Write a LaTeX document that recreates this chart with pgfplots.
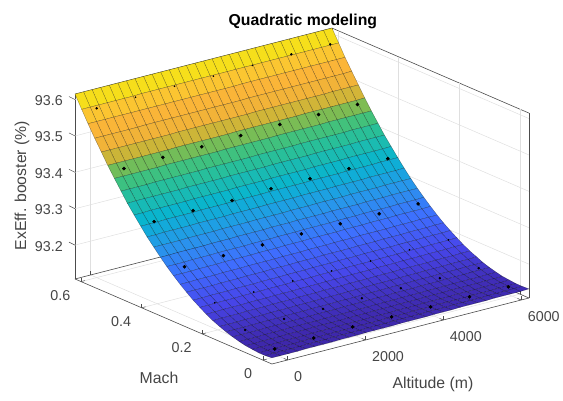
\documentclass[border=0pt]{standalone}
\usepackage{fontspec}
\setmainfont{Liberation Sans}
\usepackage{pgfplots}
\pgfplotsset{compat=1.18}
\definecolor{txt}{gray}{0.27}
\begin{document}
\begin{tikzpicture}
\path[use as bounding box] (0,0) rectangle (563pt,400pt);
\begin{axis}[
  at={(75pt,36pt)},anchor=south west,
  x={(0.03894pt,0.01pt)},y={(-303pt,130.8pt)},z={(0pt,364pt)},
  xmin=-400,xmax=6200,ymin=-0.03,ymax=0.62,zmin=93.107,zmax=93.615,
  clip=false,
  colormap={parula}{rgb(0cm)=(0.2422,0.1504,0.6603);rgb(11cm)=(0.2803,0.2782,0.9221);rgb(22cm)=(0.2440,0.4358,0.9988);rgb(33cm)=(0.1540,0.5902,0.9218);rgb(44cm)=(0.0297,0.7082,0.8163);rgb(58cm)=(0.19,0.76,0.55);rgb(64cm)=(0.35,0.75,0.40);rgb(69cm)=(0.70,0.72,0.22);rgb(74cm)=(0.93,0.70,0.22);rgb(85cm)=(0.99,0.71,0.22);rgb(92cm)=(0.98,0.80,0.18);rgb(95cm)=(0.97,0.85,0.12);rgb(100cm)=(0.95,0.92,0.08)},
  point meta min=93.122,point meta max=93.615,
  xtick={0,2000,4000,6000},xticklabels={0,2000,4000,6000},
  ytick={0,0.2,0.4,0.6},yticklabels={0,0.2,0.4,0.6},
  ztick={93.2,93.3,93.4,93.5,93.6},zticklabels={93.2,93.3,93.4,93.5,93.6},
  xtick pos=left,ytick pos=left,
  grid=major,grid style={gray!25,line width=0.5pt},
  axis line style={black!70,line width=0.6pt},
  tick style={black!70,line width=0.5pt},
  ztick style={draw=none},
  major tick length=4pt,
  tick label style={font=\fontsize{14.3}{16}\selectfont,text=txt,inner sep=0pt},
  xticklabel style={anchor=west,xshift=6.5pt,yshift=-16.5pt},
  yticklabel style={anchor=east,xshift=-10.5pt,yshift=-13.5pt},
  zticklabel style={anchor=east,xshift=-12pt,yshift=-1pt},
  label style={font=\fontsize{15.8}{18}\selectfont,text=txt},
  title style={font=\bfseries\fontsize{15.8}{18}\selectfont,text=black,at={(axis description cs:0.502,1.003)},anchor=center},
  title={Quadratic modeling},
  xlabel={Altitude (m)},ylabel={Mach},zlabel={ExEff. booster (\%)},
  x label style={at={(axis description cs:0.7885,-0.0597)},anchor=center},
  y label style={at={(axis description cs:0.185,-0.0418)},anchor=center},
  z label style={at={(axis description cs:-0.1167,0.531)},anchor=center,rotate=0},
]
\addplot3[surf,shader=faceted,faceted color=black,line width=0.3pt,draw opacity=0.45,mesh/rows=31] table[row sep=\\]{
x y z\\
-400 -0.03 93.124\\-180 -0.03 93.124\\40 -0.03 93.124\\260 -0.03 93.124\\480 -0.03 93.125\\700 -0.03 93.125\\920 -0.03 93.125\\1140 -0.03 93.125\\1360 -0.03 93.126\\1580 -0.03 93.126\\1800 -0.03 93.126\\2020 -0.03 93.127\\2240 -0.03 93.127\\2460 -0.03 93.127\\2680 -0.03 93.127\\2900 -0.03 93.128\\3120 -0.03 93.128\\3340 -0.03 93.128\\3560 -0.03 93.128\\3780 -0.03 93.129\\4000 -0.03 93.129\\4220 -0.03 93.129\\4440 -0.03 93.130\\4660 -0.03 93.130\\4880 -0.03 93.130\\5100 -0.03 93.130\\5320 -0.03 93.131\\5540 -0.03 93.131\\5760 -0.03 93.131\\5980 -0.03 93.131\\6200 -0.03 93.132\\
-400 -0.008 93.122\\-180 -0.008 93.123\\40 -0.008 93.123\\260 -0.008 93.123\\480 -0.008 93.123\\700 -0.008 93.124\\920 -0.008 93.124\\1140 -0.008 93.124\\1360 -0.008 93.125\\1580 -0.008 93.125\\1800 -0.008 93.125\\2020 -0.008 93.125\\2240 -0.008 93.126\\2460 -0.008 93.126\\2680 -0.008 93.126\\2900 -0.008 93.127\\3120 -0.008 93.127\\3340 -0.008 93.127\\3560 -0.008 93.127\\3780 -0.008 93.128\\4000 -0.008 93.128\\4220 -0.008 93.128\\4440 -0.008 93.129\\4660 -0.008 93.129\\4880 -0.008 93.129\\5100 -0.008 93.129\\5320 -0.008 93.130\\5540 -0.008 93.130\\5760 -0.008 93.130\\5980 -0.008 93.131\\6200 -0.008 93.131\\
-400 0.013 93.122\\-180 0.013 93.123\\40 0.013 93.123\\260 0.013 93.123\\480 0.013 93.123\\700 0.013 93.124\\920 0.013 93.124\\1140 0.013 93.124\\1360 0.013 93.125\\1580 0.013 93.125\\1800 0.013 93.125\\2020 0.013 93.126\\2240 0.013 93.126\\2460 0.013 93.126\\2680 0.013 93.126\\2900 0.013 93.127\\3120 0.013 93.127\\3340 0.013 93.127\\3560 0.013 93.128\\3780 0.013 93.128\\4000 0.013 93.128\\4220 0.013 93.129\\4440 0.013 93.129\\4660 0.013 93.129\\4880 0.013 93.129\\5100 0.013 93.130\\5320 0.013 93.130\\5540 0.013 93.130\\5760 0.013 93.131\\5980 0.013 93.131\\6200 0.013 93.131\\
-400 0.035 93.124\\-180 0.035 93.124\\40 0.035 93.124\\260 0.035 93.124\\480 0.035 93.125\\700 0.035 93.125\\920 0.035 93.125\\1140 0.035 93.126\\1360 0.035 93.126\\1580 0.035 93.126\\1800 0.035 93.127\\2020 0.035 93.127\\2240 0.035 93.127\\2460 0.035 93.127\\2680 0.035 93.128\\2900 0.035 93.128\\3120 0.035 93.128\\3340 0.035 93.129\\3560 0.035 93.129\\3780 0.035 93.129\\4000 0.035 93.130\\4220 0.035 93.130\\4440 0.035 93.130\\4660 0.035 93.130\\4880 0.035 93.131\\5100 0.035 93.131\\5320 0.035 93.131\\5540 0.035 93.132\\5760 0.035 93.132\\5980 0.035 93.132\\6200 0.035 93.133\\
-400 0.057 93.126\\-180 0.057 93.126\\40 0.057 93.127\\260 0.057 93.127\\480 0.057 93.127\\700 0.057 93.128\\920 0.057 93.128\\1140 0.057 93.128\\1360 0.057 93.129\\1580 0.057 93.129\\1800 0.057 93.129\\2020 0.057 93.129\\2240 0.057 93.130\\2460 0.057 93.130\\2680 0.057 93.130\\2900 0.057 93.131\\3120 0.057 93.131\\3340 0.057 93.131\\3560 0.057 93.132\\3780 0.057 93.132\\4000 0.057 93.132\\4220 0.057 93.133\\4440 0.057 93.133\\4660 0.057 93.133\\4880 0.057 93.134\\5100 0.057 93.134\\5320 0.057 93.134\\5540 0.057 93.134\\5760 0.057 93.135\\5980 0.057 93.135\\6200 0.057 93.135\\
-400 0.078 93.130\\-180 0.078 93.130\\40 0.078 93.130\\260 0.078 93.131\\480 0.078 93.131\\700 0.078 93.131\\920 0.078 93.132\\1140 0.078 93.132\\1360 0.078 93.132\\1580 0.078 93.132\\1800 0.078 93.133\\2020 0.078 93.133\\2240 0.078 93.133\\2460 0.078 93.134\\2680 0.078 93.134\\2900 0.078 93.134\\3120 0.078 93.135\\3340 0.078 93.135\\3560 0.078 93.135\\3780 0.078 93.136\\4000 0.078 93.136\\4220 0.078 93.136\\4440 0.078 93.137\\4660 0.078 93.137\\4880 0.078 93.137\\5100 0.078 93.138\\5320 0.078 93.138\\5540 0.078 93.138\\5760 0.078 93.138\\5980 0.078 93.139\\6200 0.078 93.139\\
-400 0.1 93.135\\-180 0.1 93.135\\40 0.1 93.135\\260 0.1 93.135\\480 0.1 93.136\\700 0.1 93.136\\920 0.1 93.136\\1140 0.1 93.137\\1360 0.1 93.137\\1580 0.1 93.137\\1800 0.1 93.138\\2020 0.1 93.138\\2240 0.1 93.138\\2460 0.1 93.139\\2680 0.1 93.139\\2900 0.1 93.139\\3120 0.1 93.140\\3340 0.1 93.140\\3560 0.1 93.140\\3780 0.1 93.141\\4000 0.1 93.141\\4220 0.1 93.141\\4440 0.1 93.142\\4660 0.1 93.142\\4880 0.1 93.142\\5100 0.1 93.143\\5320 0.1 93.143\\5540 0.1 93.143\\5760 0.1 93.144\\5980 0.1 93.144\\6200 0.1 93.144\\
-400 0.122 93.141\\-180 0.122 93.141\\40 0.122 93.141\\260 0.122 93.141\\480 0.122 93.142\\700 0.122 93.142\\920 0.122 93.142\\1140 0.122 93.143\\1360 0.122 93.143\\1580 0.122 93.143\\1800 0.122 93.144\\2020 0.122 93.144\\2240 0.122 93.144\\2460 0.122 93.145\\2680 0.122 93.145\\2900 0.122 93.145\\3120 0.122 93.146\\3340 0.122 93.146\\3560 0.122 93.146\\3780 0.122 93.147\\4000 0.122 93.147\\4220 0.122 93.147\\4440 0.122 93.148\\4660 0.122 93.148\\4880 0.122 93.148\\5100 0.122 93.149\\5320 0.122 93.149\\5540 0.122 93.149\\5760 0.122 93.150\\5980 0.122 93.150\\6200 0.122 93.150\\
-400 0.143 93.148\\-180 0.143 93.148\\40 0.143 93.148\\260 0.143 93.149\\480 0.143 93.149\\700 0.143 93.149\\920 0.143 93.150\\1140 0.143 93.150\\1360 0.143 93.150\\1580 0.143 93.151\\1800 0.143 93.151\\2020 0.143 93.151\\2240 0.143 93.152\\2460 0.143 93.152\\2680 0.143 93.152\\2900 0.143 93.153\\3120 0.143 93.153\\3340 0.143 93.153\\3560 0.143 93.154\\3780 0.143 93.154\\4000 0.143 93.154\\4220 0.143 93.155\\4440 0.143 93.155\\4660 0.143 93.155\\4880 0.143 93.156\\5100 0.143 93.156\\5320 0.143 93.156\\5540 0.143 93.157\\5760 0.143 93.157\\5980 0.143 93.157\\6200 0.143 93.158\\
-400 0.165 93.156\\-180 0.165 93.157\\40 0.165 93.157\\260 0.165 93.157\\480 0.165 93.158\\700 0.165 93.158\\920 0.165 93.158\\1140 0.165 93.159\\1360 0.165 93.159\\1580 0.165 93.159\\1800 0.165 93.160\\2020 0.165 93.160\\2240 0.165 93.160\\2460 0.165 93.161\\2680 0.165 93.161\\2900 0.165 93.161\\3120 0.165 93.162\\3340 0.165 93.162\\3560 0.165 93.162\\3780 0.165 93.163\\4000 0.165 93.163\\4220 0.165 93.163\\4440 0.165 93.164\\4660 0.165 93.164\\4880 0.165 93.164\\5100 0.165 93.164\\5320 0.165 93.165\\5540 0.165 93.165\\5760 0.165 93.165\\5980 0.165 93.166\\6200 0.165 93.166\\
-400 0.187 93.166\\-180 0.187 93.166\\40 0.187 93.167\\260 0.187 93.167\\480 0.187 93.167\\700 0.187 93.168\\920 0.187 93.168\\1140 0.187 93.168\\1360 0.187 93.169\\1580 0.187 93.169\\1800 0.187 93.169\\2020 0.187 93.170\\2240 0.187 93.170\\2460 0.187 93.170\\2680 0.187 93.171\\2900 0.187 93.171\\3120 0.187 93.171\\3340 0.187 93.172\\3560 0.187 93.172\\3780 0.187 93.172\\4000 0.187 93.173\\4220 0.187 93.173\\4440 0.187 93.173\\4660 0.187 93.174\\4880 0.187 93.174\\5100 0.187 93.174\\5320 0.187 93.175\\5540 0.187 93.175\\5760 0.187 93.175\\5980 0.187 93.176\\6200 0.187 93.176\\
-400 0.208 93.177\\-180 0.208 93.177\\40 0.208 93.178\\260 0.208 93.178\\480 0.208 93.178\\700 0.208 93.179\\920 0.208 93.179\\1140 0.208 93.179\\1360 0.208 93.180\\1580 0.208 93.180\\1800 0.208 93.180\\2020 0.208 93.181\\2240 0.208 93.181\\2460 0.208 93.181\\2680 0.208 93.182\\2900 0.208 93.182\\3120 0.208 93.182\\3340 0.208 93.183\\3560 0.208 93.183\\3780 0.208 93.183\\4000 0.208 93.183\\4220 0.208 93.184\\4440 0.208 93.184\\4660 0.208 93.184\\4880 0.208 93.185\\5100 0.208 93.185\\5320 0.208 93.185\\5540 0.208 93.186\\5760 0.208 93.186\\5980 0.208 93.186\\6200 0.208 93.187\\
-400 0.23 93.189\\-180 0.23 93.189\\40 0.23 93.190\\260 0.23 93.190\\480 0.23 93.190\\700 0.23 93.191\\920 0.23 93.191\\1140 0.23 93.191\\1360 0.23 93.192\\1580 0.23 93.192\\1800 0.23 93.192\\2020 0.23 93.193\\2240 0.23 93.193\\2460 0.23 93.193\\2680 0.23 93.194\\2900 0.23 93.194\\3120 0.23 93.194\\3340 0.23 93.195\\3560 0.23 93.195\\3780 0.23 93.195\\4000 0.23 93.196\\4220 0.23 93.196\\4440 0.23 93.196\\4660 0.23 93.196\\4880 0.23 93.197\\5100 0.23 93.197\\5320 0.23 93.197\\5540 0.23 93.198\\5760 0.23 93.198\\5980 0.23 93.198\\6200 0.23 93.199\\
-400 0.252 93.203\\-180 0.252 93.203\\40 0.252 93.203\\260 0.252 93.203\\480 0.252 93.204\\700 0.252 93.204\\920 0.252 93.204\\1140 0.252 93.205\\1360 0.252 93.205\\1580 0.252 93.205\\1800 0.252 93.206\\2020 0.252 93.206\\2240 0.252 93.206\\2460 0.252 93.207\\2680 0.252 93.207\\2900 0.252 93.207\\3120 0.252 93.208\\3340 0.252 93.208\\3560 0.252 93.208\\3780 0.252 93.208\\4000 0.252 93.209\\4220 0.252 93.209\\4440 0.252 93.209\\4660 0.252 93.210\\4880 0.252 93.210\\5100 0.252 93.210\\5320 0.252 93.211\\5540 0.252 93.211\\5760 0.252 93.211\\5980 0.252 93.212\\6200 0.252 93.212\\
-400 0.273 93.217\\-180 0.273 93.217\\40 0.273 93.218\\260 0.273 93.218\\480 0.273 93.218\\700 0.273 93.219\\920 0.273 93.219\\1140 0.273 93.219\\1360 0.273 93.220\\1580 0.273 93.220\\1800 0.273 93.220\\2020 0.273 93.220\\2240 0.273 93.221\\2460 0.273 93.221\\2680 0.273 93.221\\2900 0.273 93.222\\3120 0.273 93.222\\3340 0.273 93.222\\3560 0.273 93.223\\3780 0.273 93.223\\4000 0.273 93.223\\4220 0.273 93.224\\4440 0.273 93.224\\4660 0.273 93.224\\4880 0.273 93.224\\5100 0.273 93.225\\5320 0.273 93.225\\5540 0.273 93.225\\5760 0.273 93.226\\5980 0.273 93.226\\6200 0.273 93.226\\
-400 0.295 93.233\\-180 0.295 93.233\\40 0.295 93.233\\260 0.295 93.234\\480 0.295 93.234\\700 0.295 93.234\\920 0.295 93.235\\1140 0.295 93.235\\1360 0.295 93.235\\1580 0.295 93.235\\1800 0.295 93.236\\2020 0.295 93.236\\2240 0.295 93.236\\2460 0.295 93.237\\2680 0.295 93.237\\2900 0.295 93.237\\3120 0.295 93.238\\3340 0.295 93.238\\3560 0.295 93.238\\3780 0.295 93.238\\4000 0.295 93.239\\4220 0.295 93.239\\4440 0.295 93.239\\4660 0.295 93.240\\4880 0.295 93.240\\5100 0.295 93.240\\5320 0.295 93.241\\5540 0.295 93.241\\5760 0.295 93.241\\5980 0.295 93.241\\6200 0.295 93.242\\
-400 0.317 93.250\\-180 0.317 93.250\\40 0.317 93.250\\260 0.317 93.251\\480 0.317 93.251\\700 0.317 93.251\\920 0.317 93.252\\1140 0.317 93.252\\1360 0.317 93.252\\1580 0.317 93.252\\1800 0.317 93.253\\2020 0.317 93.253\\2240 0.317 93.253\\2460 0.317 93.254\\2680 0.317 93.254\\2900 0.317 93.254\\3120 0.317 93.255\\3340 0.317 93.255\\3560 0.317 93.255\\3780 0.317 93.255\\4000 0.317 93.256\\4220 0.317 93.256\\4440 0.317 93.256\\4660 0.317 93.257\\4880 0.317 93.257\\5100 0.317 93.257\\5320 0.317 93.257\\5540 0.317 93.258\\5760 0.317 93.258\\5980 0.317 93.258\\6200 0.317 93.259\\
-400 0.338 93.268\\-180 0.338 93.268\\40 0.338 93.269\\260 0.338 93.269\\480 0.338 93.269\\700 0.338 93.269\\920 0.338 93.270\\1140 0.338 93.270\\1360 0.338 93.270\\1580 0.338 93.271\\1800 0.338 93.271\\2020 0.338 93.271\\2240 0.338 93.271\\2460 0.338 93.272\\2680 0.338 93.272\\2900 0.338 93.272\\3120 0.338 93.273\\3340 0.338 93.273\\3560 0.338 93.273\\3780 0.338 93.273\\4000 0.338 93.274\\4220 0.338 93.274\\4440 0.338 93.274\\4660 0.338 93.274\\4880 0.338 93.275\\5100 0.338 93.275\\5320 0.338 93.275\\5540 0.338 93.276\\5760 0.338 93.276\\5980 0.338 93.276\\6200 0.338 93.276\\
-400 0.36 93.288\\-180 0.36 93.288\\40 0.36 93.288\\260 0.36 93.288\\480 0.36 93.289\\700 0.36 93.289\\920 0.36 93.289\\1140 0.36 93.289\\1360 0.36 93.290\\1580 0.36 93.290\\1800 0.36 93.290\\2020 0.36 93.290\\2240 0.36 93.291\\2460 0.36 93.291\\2680 0.36 93.291\\2900 0.36 93.291\\3120 0.36 93.292\\3340 0.36 93.292\\3560 0.36 93.292\\3780 0.36 93.293\\4000 0.36 93.293\\4220 0.36 93.293\\4440 0.36 93.293\\4660 0.36 93.294\\4880 0.36 93.294\\5100 0.36 93.294\\5320 0.36 93.294\\5540 0.36 93.295\\5760 0.36 93.295\\5980 0.36 93.295\\6200 0.36 93.295\\
-400 0.382 93.308\\-180 0.382 93.308\\40 0.382 93.309\\260 0.382 93.309\\480 0.382 93.309\\700 0.382 93.309\\920 0.382 93.310\\1140 0.382 93.310\\1360 0.382 93.310\\1580 0.382 93.310\\1800 0.382 93.311\\2020 0.382 93.311\\2240 0.382 93.311\\2460 0.382 93.311\\2680 0.382 93.312\\2900 0.382 93.312\\3120 0.382 93.312\\3340 0.382 93.312\\3560 0.382 93.313\\3780 0.382 93.313\\4000 0.382 93.313\\4220 0.382 93.313\\4440 0.382 93.314\\4660 0.382 93.314\\4880 0.382 93.314\\5100 0.382 93.314\\5320 0.382 93.315\\5540 0.382 93.315\\5760 0.382 93.315\\5980 0.382 93.315\\6200 0.382 93.316\\
-400 0.403 93.330\\-180 0.403 93.330\\40 0.403 93.330\\260 0.403 93.331\\480 0.403 93.331\\700 0.403 93.331\\920 0.403 93.331\\1140 0.403 93.332\\1360 0.403 93.332\\1580 0.403 93.332\\1800 0.403 93.332\\2020 0.403 93.333\\2240 0.403 93.333\\2460 0.403 93.333\\2680 0.403 93.333\\2900 0.403 93.334\\3120 0.403 93.334\\3340 0.403 93.334\\3560 0.403 93.334\\3780 0.403 93.334\\4000 0.403 93.335\\4220 0.403 93.335\\4440 0.403 93.335\\4660 0.403 93.335\\4880 0.403 93.336\\5100 0.403 93.336\\5320 0.403 93.336\\5540 0.403 93.336\\5760 0.403 93.337\\5980 0.403 93.337\\6200 0.403 93.337\\
-400 0.425 93.353\\-180 0.425 93.353\\40 0.425 93.354\\260 0.425 93.354\\480 0.425 93.354\\700 0.425 93.354\\920 0.425 93.354\\1140 0.425 93.355\\1360 0.425 93.355\\1580 0.425 93.355\\1800 0.425 93.355\\2020 0.425 93.355\\2240 0.425 93.356\\2460 0.425 93.356\\2680 0.425 93.356\\2900 0.425 93.356\\3120 0.425 93.357\\3340 0.425 93.357\\3560 0.425 93.357\\3780 0.425 93.357\\4000 0.425 93.357\\4220 0.425 93.358\\4440 0.425 93.358\\4660 0.425 93.358\\4880 0.425 93.358\\5100 0.425 93.359\\5320 0.425 93.359\\5540 0.425 93.359\\5760 0.425 93.359\\5980 0.425 93.359\\6200 0.425 93.360\\
-400 0.447 93.377\\-180 0.447 93.378\\40 0.447 93.378\\260 0.447 93.378\\480 0.447 93.378\\700 0.447 93.378\\920 0.447 93.378\\1140 0.447 93.379\\1360 0.447 93.379\\1580 0.447 93.379\\1800 0.447 93.379\\2020 0.447 93.379\\2240 0.447 93.380\\2460 0.447 93.380\\2680 0.447 93.380\\2900 0.447 93.380\\3120 0.447 93.380\\3340 0.447 93.381\\3560 0.447 93.381\\3780 0.447 93.381\\4000 0.447 93.381\\4220 0.447 93.381\\4440 0.447 93.382\\4660 0.447 93.382\\4880 0.447 93.382\\5100 0.447 93.382\\5320 0.447 93.382\\5540 0.447 93.383\\5760 0.447 93.383\\5980 0.447 93.383\\6200 0.447 93.383\\
-400 0.468 93.403\\-180 0.468 93.403\\40 0.468 93.403\\260 0.468 93.403\\480 0.468 93.404\\700 0.468 93.404\\920 0.468 93.404\\1140 0.468 93.404\\1360 0.468 93.404\\1580 0.468 93.404\\1800 0.468 93.405\\2020 0.468 93.405\\2240 0.468 93.405\\2460 0.468 93.405\\2680 0.468 93.405\\2900 0.468 93.405\\3120 0.468 93.406\\3340 0.468 93.406\\3560 0.468 93.406\\3780 0.468 93.406\\4000 0.468 93.406\\4220 0.468 93.407\\4440 0.468 93.407\\4660 0.468 93.407\\4880 0.468 93.407\\5100 0.468 93.407\\5320 0.468 93.407\\5540 0.468 93.408\\5760 0.468 93.408\\5980 0.468 93.408\\6200 0.468 93.408\\
-400 0.49 93.430\\-180 0.49 93.430\\40 0.49 93.430\\260 0.49 93.430\\480 0.49 93.430\\700 0.49 93.430\\920 0.49 93.431\\1140 0.49 93.431\\1360 0.49 93.431\\1580 0.49 93.431\\1800 0.49 93.431\\2020 0.49 93.431\\2240 0.49 93.431\\2460 0.49 93.432\\2680 0.49 93.432\\2900 0.49 93.432\\3120 0.49 93.432\\3340 0.49 93.432\\3560 0.49 93.432\\3780 0.49 93.433\\4000 0.49 93.433\\4220 0.49 93.433\\4440 0.49 93.433\\4660 0.49 93.433\\4880 0.49 93.433\\5100 0.49 93.434\\5320 0.49 93.434\\5540 0.49 93.434\\5760 0.49 93.434\\5980 0.49 93.434\\6200 0.49 93.434\\
-400 0.512 93.458\\-180 0.512 93.458\\40 0.512 93.458\\260 0.512 93.458\\480 0.512 93.458\\700 0.512 93.458\\920 0.512 93.458\\1140 0.512 93.458\\1360 0.512 93.459\\1580 0.512 93.459\\1800 0.512 93.459\\2020 0.512 93.459\\2240 0.512 93.459\\2460 0.512 93.459\\2680 0.512 93.459\\2900 0.512 93.460\\3120 0.512 93.460\\3340 0.512 93.460\\3560 0.512 93.460\\3780 0.512 93.460\\4000 0.512 93.460\\4220 0.512 93.460\\4440 0.512 93.460\\4660 0.512 93.461\\4880 0.512 93.461\\5100 0.512 93.461\\5320 0.512 93.461\\5540 0.512 93.461\\5760 0.512 93.461\\5980 0.512 93.461\\6200 0.512 93.462\\
-400 0.533 93.487\\-180 0.533 93.487\\40 0.533 93.487\\260 0.533 93.487\\480 0.533 93.487\\700 0.533 93.487\\920 0.533 93.487\\1140 0.533 93.487\\1360 0.533 93.487\\1580 0.533 93.488\\1800 0.533 93.488\\2020 0.533 93.488\\2240 0.533 93.488\\2460 0.533 93.488\\2680 0.533 93.488\\2900 0.533 93.488\\3120 0.533 93.488\\3340 0.533 93.488\\3560 0.533 93.489\\3780 0.533 93.489\\4000 0.533 93.489\\4220 0.533 93.489\\4440 0.533 93.489\\4660 0.533 93.489\\4880 0.533 93.489\\5100 0.533 93.489\\5320 0.533 93.489\\5540 0.533 93.490\\5760 0.533 93.490\\5980 0.533 93.490\\6200 0.533 93.490\\
-400 0.555 93.517\\-180 0.555 93.517\\40 0.555 93.517\\260 0.555 93.517\\480 0.555 93.517\\700 0.555 93.517\\920 0.555 93.518\\1140 0.555 93.518\\1360 0.555 93.518\\1580 0.555 93.518\\1800 0.555 93.518\\2020 0.555 93.518\\2240 0.555 93.518\\2460 0.555 93.518\\2680 0.555 93.518\\2900 0.555 93.518\\3120 0.555 93.518\\3340 0.555 93.518\\3560 0.555 93.519\\3780 0.555 93.519\\4000 0.555 93.519\\4220 0.555 93.519\\4440 0.555 93.519\\4660 0.555 93.519\\4880 0.555 93.519\\5100 0.555 93.519\\5320 0.555 93.519\\5540 0.555 93.519\\5760 0.555 93.519\\5980 0.555 93.519\\6200 0.555 93.520\\
-400 0.577 93.549\\-180 0.577 93.549\\40 0.577 93.549\\260 0.577 93.549\\480 0.577 93.549\\700 0.577 93.549\\920 0.577 93.549\\1140 0.577 93.549\\1360 0.577 93.549\\1580 0.577 93.549\\1800 0.577 93.549\\2020 0.577 93.549\\2240 0.577 93.549\\2460 0.577 93.549\\2680 0.577 93.549\\2900 0.577 93.549\\3120 0.577 93.549\\3340 0.577 93.549\\3560 0.577 93.550\\3780 0.577 93.550\\4000 0.577 93.550\\4220 0.577 93.550\\4440 0.577 93.550\\4660 0.577 93.550\\4880 0.577 93.550\\5100 0.577 93.550\\5320 0.577 93.550\\5540 0.577 93.550\\5760 0.577 93.550\\5980 0.577 93.550\\6200 0.577 93.550\\
-400 0.598 93.581\\-180 0.598 93.581\\40 0.598 93.581\\260 0.598 93.581\\480 0.598 93.581\\700 0.598 93.581\\920 0.598 93.581\\1140 0.598 93.582\\1360 0.598 93.582\\1580 0.598 93.582\\1800 0.598 93.582\\2020 0.598 93.582\\2240 0.598 93.582\\2460 0.598 93.582\\2680 0.598 93.582\\2900 0.598 93.582\\3120 0.598 93.582\\3340 0.598 93.582\\3560 0.598 93.582\\3780 0.598 93.582\\4000 0.598 93.582\\4220 0.598 93.582\\4440 0.598 93.582\\4660 0.598 93.582\\4880 0.598 93.582\\5100 0.598 93.582\\5320 0.598 93.582\\5540 0.598 93.582\\5760 0.598 93.582\\5980 0.598 93.582\\6200 0.598 93.582\\
-400 0.62 93.615\\-180 0.62 93.615\\40 0.62 93.615\\260 0.62 93.615\\480 0.62 93.615\\700 0.62 93.615\\920 0.62 93.615\\1140 0.62 93.615\\1360 0.62 93.615\\1580 0.62 93.615\\1800 0.62 93.615\\2020 0.62 93.615\\2240 0.62 93.615\\2460 0.62 93.615\\2680 0.62 93.615\\2900 0.62 93.615\\3120 0.62 93.615\\3340 0.62 93.615\\3560 0.62 93.615\\3780 0.62 93.615\\4000 0.62 93.615\\4220 0.62 93.615\\4440 0.62 93.615\\4660 0.62 93.615\\4880 0.62 93.615\\5100 0.62 93.615\\5320 0.62 93.615\\5540 0.62 93.615\\5760 0.62 93.615\\5980 0.62 93.615\\6200 0.62 93.615\\
};
\addplot3[only marks,mark=*,mark size=1.6pt,black] table[row sep=\\]{
x y z\\
0 0.012 93.122\\ 1000 0.012 93.125\\ 2000 0.012 93.128\\ 3000 0.012 93.128\\ 4000 0.012 93.128\\ 5000 0.012 93.128\\ 6000 0.012 93.128\\
0 0.31 93.241\\ 1000 0.31 93.244\\ 2000 0.31 93.246\\ 3000 0.31 93.249\\ 4000 0.31 93.249\\ 5000 0.31 93.249\\ 6000 0.31 93.249\\
0 0.41 93.329\\ 1000 0.41 93.332\\ 2000 0.41 93.332\\ 3000 0.41 93.337\\ 4000 0.41 93.337\\ 5000 0.41 93.337\\ 6000 0.41 93.337\\
0 0.51 93.439\\ 1000 0.51 93.442\\ 2000 0.51 93.444\\ 3000 0.51 93.447\\ 4000 0.51 93.450\\ 5000 0.51 93.450\\ 6000 0.51 93.450\\
};
\addplot3[only marks,mark=*,mark size=1pt,black] table[row sep=\\]{
x y z\\
0 0.11 93.139\\ 1000 0.11 93.142\\ 2000 0.11 93.142\\ 3000 0.11 93.144\\ 4000 0.11 93.144\\ 5000 0.11 93.144\\ 6000 0.11 93.144\\
0 0.6 93.572\\ 5000 0.6 93.583\\ 6000 0.6 93.583\\
};
\addplot3[only marks,mark=*,mark size=0.6pt,black] table[row sep=\\]{
x y z\\
0 0.21 93.178\\ 1000 0.21 93.180\\ 2000 0.21 93.183\\ 3000 0.21 93.183\\ 4000 0.21 93.183\\ 5000 0.21 93.186\\ 6000 0.21 93.186\\
1000 0.6 93.575\\ 2000 0.6 93.578\\ 3000 0.6 93.578\\ 4000 0.6 93.580\\
};
\draw[black!70,line width=0.5pt] (axis cs:-400,0.62,93.2) -- ++(-6pt,3pt);
\draw[black!70,line width=0.5pt] (axis cs:-400,0.62,93.3) -- ++(-6pt,3pt);
\draw[black!70,line width=0.5pt] (axis cs:-400,0.62,93.4) -- ++(-6pt,3pt);
\draw[black!70,line width=0.5pt] (axis cs:-400,0.62,93.5) -- ++(-6pt,3pt);
\draw[black!70,line width=0.5pt] (axis cs:-400,0.62,93.6) -- ++(-6pt,3pt);
\end{axis}
\end{tikzpicture}
\end{document}
